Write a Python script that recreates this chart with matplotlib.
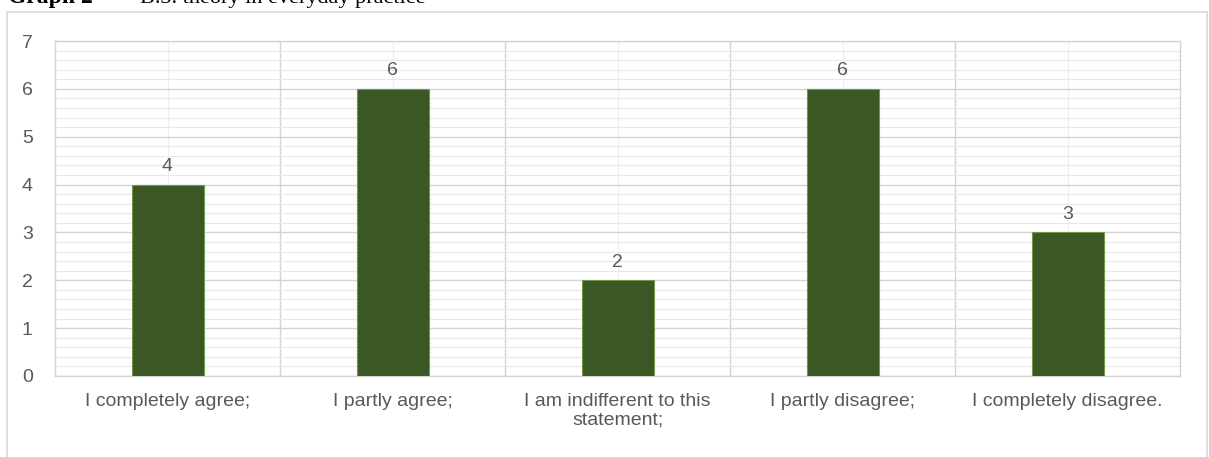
import matplotlib
matplotlib.use("Agg")
import matplotlib.pyplot as plt
from matplotlib.patches import Rectangle
from matplotlib.ticker import MultipleLocator

categories = ["I completely agree;", "I partly agree;", "I am indifferent to this\nstatement;",
              "I partly disagree;", "I completely disagree."]
values = [4, 6, 2, 6, 3]
y_ticks = [0, 1, 2, 3, 4, 5, 6, 7]

plt.rcParams['font.family'] = ['Liberation Sans', 'DejaVu Sans']

W, H = 1209, 457
fig = plt.figure(figsize=(W / 100, H / 100), dpi=100)
fig.patch.set_facecolor('white')

# outer chart frame
fig.patches.append(Rectangle((7 / W, -0.05), 1200 / W, (H - 12) / H + 0.05,
                             transform=fig.transFigure, fill=False,
                             edgecolor='#D9D9D9', linewidth=1.2))

# cut-off title at the top (as in the reference)
fig.text(8 / W, 1 - 3 / H, "Graph 2", family='Liberation Serif', fontweight='bold',
         fontsize=17, va='baseline', ha='left', color='black')
fig.text(140 / W, 1 - 3 / H, "B.3. theory in everyday practice", family='Liberation Serif',
         fontsize=16, va='baseline', ha='left', color='black')

ax = fig.add_axes([55 / W, (H - 376) / H, (1180 - 55) / W, (376 - 41) / H])
x = list(range(len(categories)))
bars = ax.bar(x, values, width=0.32, color='#3B5723', edgecolor='#6E9A4A', linewidth=0.8, zorder=3)

ax.set_xlim(-0.5, len(categories) - 0.5)
ax.set_ylim(0, 7)
ax.set_yticks(y_ticks)
ax.yaxis.set_minor_locator(MultipleLocator(0.2))
ax.set_xticks(x)
ax.set_xticklabels(categories, linespacing=1.15)
ax.set_xticks([i + 0.5 for i in x[:-1]], minor=True)

ax.grid(axis='y', which='major', color='#D4D4D4', linewidth=1.0, zorder=0)
ax.grid(axis='y', which='minor', color='#E9E9E9', linewidth=0.8, zorder=0)
ax.grid(axis='x', which='major', color='#EFEFEF', linewidth=0.8, zorder=0)
ax.grid(axis='x', which='minor', color='#D4D4D4', linewidth=1.0, zorder=0)

for s in ax.spines.values():
    s.set_color('#D4D4D4')
    s.set_linewidth(1.0)

ax.tick_params(axis='both', which='both', length=0)
ax.tick_params(axis='y', pad=16, labelsize=14, labelcolor='#595959')
ax.tick_params(axis='x', pad=12, labelsize=14, labelcolor='#595959')

for b, v in zip(bars, values):
    ax.annotate(str(v), (b.get_x() + b.get_width() / 2, v), xytext=(0, 7),
                textcoords='offset points', ha='center', va='bottom',
                fontsize=14, color='#595959')

fig.savefig("out.png", dpi=100)
